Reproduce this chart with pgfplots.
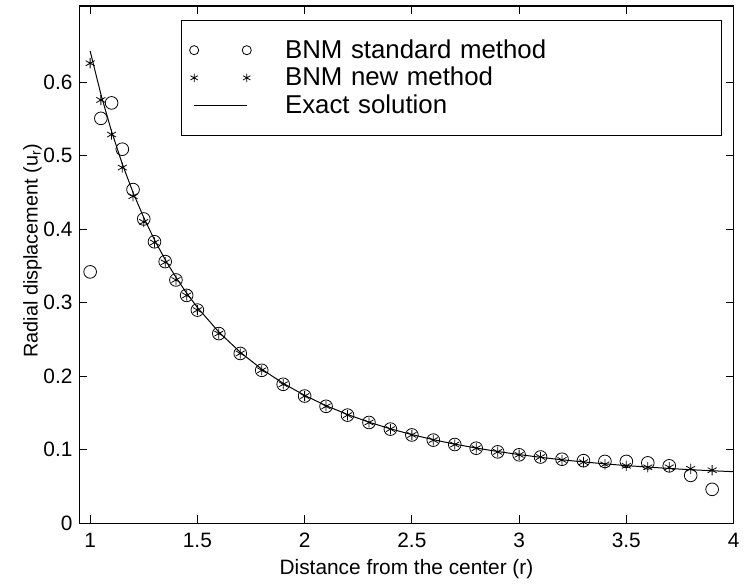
\documentclass[border=0pt]{standalone}
\usepackage{fontspec}
\setmainfont{Liberation Sans}
\usepackage{pgfplots}
\pgfplotsset{compat=1.18}

\begin{document}
\begin{tikzpicture}
\begin{axis}[
    scale only axis,
    width=329.5pt, height=260.5pt,
    xmin=0.95, xmax=4, ymin=0, ymax=0.704,
    xtick={1,1.5,...,4},
    ytick={0,0.1,...,0.6},
    tick align=inside,
    major tick length=4pt,
    tick style={black, line width=0.4pt},
    axis line style={line width=0.6pt},
    ticklabel style={font=\fontsize{10.5}{12}\selectfont},
    xticklabel style={yshift=-1.5pt},
    /pgf/number format/assume math mode=true,
    xlabel={Distance from the center (r)},
    ylabel={Radial displacement (u\textsubscript{r})},
    xlabel style={font=\fontsize{10.5}{12}\selectfont, yshift=1pt},
    ylabel style={font=\fontsize{10}{12}\selectfont, yshift=-6pt, xshift=7pt},
    legend cell align=left,
    legend style={at={(0.983,0.973)}, anchor=north east,
        font=\fontsize{13}{15}\selectfont, draw=black, line width=0.6pt,
        nodes={text width=214pt}, column sep=15pt, row sep=-1pt,
        inner ysep=7.5pt, inner xsep=4pt},
]
\addplot[only marks, mark=o, mark size=3.2pt, line width=0.4pt,
    legend image code/.code={\draw[only marks, mark=o, mark size=2.3pt] plot coordinates {(0pt,0pt) (26.5pt,0pt)};}]
coordinates {
(1.00,0.342) (1.05,0.551) (1.10,0.572) (1.15,0.509) (1.20,0.454)
(1.25,0.414) (1.30,0.383) (1.35,0.356) (1.40,0.331) (1.45,0.310)
(1.50,0.290) (1.60,0.258) (1.70,0.231) (1.80,0.208) (1.90,0.189)
(2.00,0.173) (2.10,0.159) (2.20,0.147) (2.30,0.137) (2.40,0.128)
(2.50,0.120) (2.60,0.113) (2.70,0.107) (2.80,0.102) (2.90,0.097)
(3.00,0.093) (3.10,0.090) (3.20,0.087) (3.30,0.085) (3.40,0.084)
(3.50,0.084) (3.60,0.082) (3.70,0.078) (3.80,0.065) (3.90,0.046)
};
\addlegendentry{BNM standard method}
\addplot[only marks, mark=asterisk, mark size=2.6pt, line width=0.4pt,
    legend image code/.code={\draw[only marks, mark=asterisk, mark size=2.1pt] plot coordinates {(0pt,0pt) (26.5pt,0pt)};}]
coordinates {
(1.00,0.626) (1.05,0.576) (1.10,0.529) (1.15,0.484) (1.20,0.445)
(1.25,0.410) (1.30,0.382) (1.35,0.355) (1.40,0.331) (1.45,0.310)
(1.50,0.290) (1.60,0.258) (1.70,0.231) (1.80,0.208) (1.90,0.189)
(2.00,0.173) (2.10,0.159) (2.20,0.147) (2.30,0.137) (2.40,0.128)
(2.50,0.120) (2.60,0.113) (2.70,0.107) (2.80,0.102) (2.90,0.097)
(3.00,0.093) (3.10,0.090) (3.20,0.086) (3.30,0.083) (3.40,0.080)
(3.50,0.078) (3.60,0.076) (3.70,0.076) (3.80,0.074) (3.90,0.072)
};
\addlegendentry{BNM new method}
\addplot[black, line width=0.5pt, no marks,
    legend image code/.code={\draw[line width=0.6pt] (0pt,0pt) -- (26.5pt,0pt);}]
coordinates {
(1.00,0.6426) (1.05,0.5839) (1.10,0.5331) (1.15,0.4889) (1.20,0.4501)
(1.25,0.4159) (1.30,0.3856) (1.35,0.3586) (1.40,0.3346) (1.45,0.3130)
(1.50,0.2936) (1.60,0.2601) (1.70,0.2326) (1.80,0.2096) (1.90,0.1903)
(2.00,0.1739) (2.10,0.1599) (2.20,0.1479) (2.30,0.1374) (2.40,0.1284)
(2.50,0.1205) (2.60,0.1136) (2.70,0.1075) (2.80,0.1022) (2.90,0.0975)
(3.00,0.0933) (3.10,0.0896) (3.20,0.0862) (3.30,0.0833) (3.40,0.0807)
(3.50,0.0783) (3.60,0.0763) (3.70,0.0744) (3.80,0.0727) (3.90,0.0713)
(4.00,0.0700)
};
\addlegendentry{Exact solution}
\end{axis}
\path ([shift={(-40pt,-28.5pt)}]current axis.south west)
    rectangle ([shift={(3.5pt,3pt)}]current axis.north east);
\end{tikzpicture}
\end{document}
